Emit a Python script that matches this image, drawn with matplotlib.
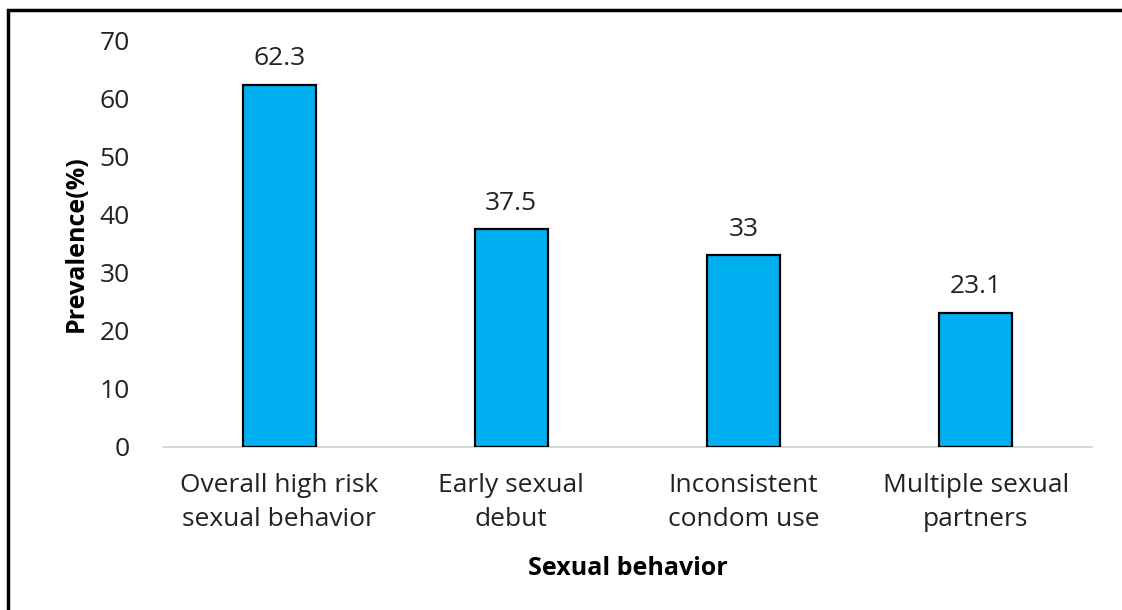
import matplotlib.pyplot as plt
from matplotlib.patches import Rectangle

categories = ["Overall high risk\nsexual behavior", "Early sexual\ndebut",
              "Inconsistent\ncondom use", "Multiple sexual\npartners"]
prevalence = [62.3, 37.5, 33, 23.1]
value_labels = ["62.3", "37.5", "33", "23.1"]
yticks = [0, 10, 20, 30, 40, 50, 60, 70]

plt.rcParams['font.family'] = ['Open Sans', 'DejaVu Sans']

fig = plt.figure(figsize=(11.22, 6.10), dpi=100)
ax = fig.add_axes([163 / 1122, 1 - 447 / 610, 929 / 1122, 407 / 610])

x = range(len(categories))
ax.bar(x, prevalence, width=0.315, color='#00B0F0', edgecolor='black', linewidth=1.6, zorder=3)
for xi, v, lab in zip(x, prevalence, value_labels):
    ax.text(xi, v + 2.3, lab, ha='center', va='bottom', fontsize=19, color='#222222')

ax.set_xlim(-0.5, 3.5)
ax.set_ylim(0, 70)
ax.set_yticks(yticks)
ax.set_yticklabels([str(t) for t in yticks], fontsize=19, color='#222222')
ax.set_xticks(list(x))
ax.set_xticklabels(categories, fontsize=19, color='#222222', linespacing=1.45)
ax.tick_params(axis='both', length=0)
ax.tick_params(axis='y', pad=24)
ax.tick_params(axis='x', pad=19)

for side in ['top', 'right', 'left']:
    ax.spines[side].set_visible(False)
ax.spines['bottom'].set_color('#d0d0d0')
ax.spines['bottom'].set_linewidth(1.2)

ax.set_ylabel('Prevalence(%)', fontsize=18, fontweight='bold', labelpad=8)
ax.set_xlabel('Sexual behavior', fontsize=18, fontweight='bold', labelpad=17)

# frame around the figure, cut off at the right and bottom
fig.patches.append(Rectangle((8 / 1122, -0.1), 1.2, (610 - 10) / 610 + 0.1,
                             transform=fig.transFigure, fill=False,
                             edgecolor='black', linewidth=2.5))

fig.savefig('out.png', dpi=100)
